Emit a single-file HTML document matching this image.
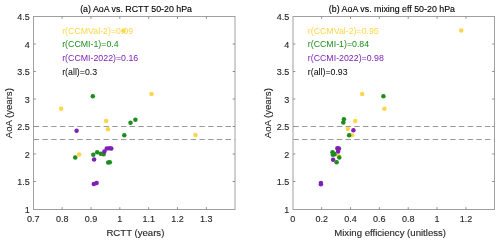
<!DOCTYPE html>
<html><head><meta charset="utf-8"><style>
html,body{margin:0;padding:0;background:#fff;width:500px;height:244px;overflow:hidden}
svg{display:block;will-change:transform;font-family:"Liberation Sans",sans-serif}
</style></head><body>
<svg width="500" height="244" viewBox="0 0 500 244">
<rect width="500" height="244" fill="#fff"/>
<line x1="33.5" y1="126.5" x2="235.0" y2="126.5" stroke="#999999" stroke-width="1" stroke-dasharray="5.4 3.32" stroke-dashoffset="-0.25"/>
<line x1="33.5" y1="139.5" x2="235.0" y2="139.5" stroke="#999999" stroke-width="1" stroke-dasharray="5.4 3.32" stroke-dashoffset="-0.25"/>
<rect x="33.5" y="16.5" width="201.50" height="193.00" fill="none" stroke="#a0a0a0" stroke-width="1"/>
<text x="33.30" y="222.00" font-size="9" text-anchor="middle" fill="#262626" stroke="#262626" stroke-width="0.12">0.7</text>
<line x1="62.14" y1="209.5" x2="62.14" y2="207.2" stroke="#8c8c8c" stroke-width="1"/>
<line x1="62.14" y1="16.5" x2="62.14" y2="18.8" stroke="#8c8c8c" stroke-width="1"/>
<text x="62.14" y="222.00" font-size="9" text-anchor="middle" fill="#262626" stroke="#262626" stroke-width="0.12">0.8</text>
<line x1="90.99" y1="209.5" x2="90.99" y2="207.2" stroke="#8c8c8c" stroke-width="1"/>
<line x1="90.99" y1="16.5" x2="90.99" y2="18.8" stroke="#8c8c8c" stroke-width="1"/>
<text x="90.99" y="222.00" font-size="9" text-anchor="middle" fill="#262626" stroke="#262626" stroke-width="0.12">0.9</text>
<line x1="119.83" y1="209.5" x2="119.83" y2="207.2" stroke="#8c8c8c" stroke-width="1"/>
<line x1="119.83" y1="16.5" x2="119.83" y2="18.8" stroke="#8c8c8c" stroke-width="1"/>
<text x="119.83" y="222.00" font-size="9" text-anchor="middle" fill="#262626" stroke="#262626" stroke-width="0.12">1</text>
<line x1="148.67" y1="209.5" x2="148.67" y2="207.2" stroke="#8c8c8c" stroke-width="1"/>
<line x1="148.67" y1="16.5" x2="148.67" y2="18.8" stroke="#8c8c8c" stroke-width="1"/>
<text x="148.67" y="222.00" font-size="9" text-anchor="middle" fill="#262626" stroke="#262626" stroke-width="0.12">1.1</text>
<line x1="177.51" y1="209.5" x2="177.51" y2="207.2" stroke="#8c8c8c" stroke-width="1"/>
<line x1="177.51" y1="16.5" x2="177.51" y2="18.8" stroke="#8c8c8c" stroke-width="1"/>
<text x="177.51" y="222.00" font-size="9" text-anchor="middle" fill="#262626" stroke="#262626" stroke-width="0.12">1.2</text>
<line x1="206.36" y1="209.5" x2="206.36" y2="207.2" stroke="#8c8c8c" stroke-width="1"/>
<line x1="206.36" y1="16.5" x2="206.36" y2="18.8" stroke="#8c8c8c" stroke-width="1"/>
<text x="206.36" y="222.00" font-size="9" text-anchor="middle" fill="#262626" stroke="#262626" stroke-width="0.12">1.3</text>
<text x="29.80" y="212.55" font-size="9" text-anchor="end" fill="#262626" stroke="#262626" stroke-width="0.12">1</text>
<line x1="33.5" y1="181.50" x2="35.8" y2="181.50" stroke="#8c8c8c" stroke-width="1"/>
<line x1="235.0" y1="181.50" x2="232.7" y2="181.50" stroke="#8c8c8c" stroke-width="1"/>
<text x="29.80" y="185.05" font-size="9" text-anchor="end" fill="#262626" stroke="#262626" stroke-width="0.12">1.5</text>
<line x1="33.5" y1="154.00" x2="35.8" y2="154.00" stroke="#8c8c8c" stroke-width="1"/>
<line x1="235.0" y1="154.00" x2="232.7" y2="154.00" stroke="#8c8c8c" stroke-width="1"/>
<text x="29.80" y="157.55" font-size="9" text-anchor="end" fill="#262626" stroke="#262626" stroke-width="0.12">2</text>
<line x1="33.5" y1="126.50" x2="35.8" y2="126.50" stroke="#8c8c8c" stroke-width="1"/>
<line x1="235.0" y1="126.50" x2="232.7" y2="126.50" stroke="#8c8c8c" stroke-width="1"/>
<text x="29.80" y="130.05" font-size="9" text-anchor="end" fill="#262626" stroke="#262626" stroke-width="0.12">2.5</text>
<line x1="33.5" y1="99.00" x2="35.8" y2="99.00" stroke="#8c8c8c" stroke-width="1"/>
<line x1="235.0" y1="99.00" x2="232.7" y2="99.00" stroke="#8c8c8c" stroke-width="1"/>
<text x="29.80" y="102.55" font-size="9" text-anchor="end" fill="#262626" stroke="#262626" stroke-width="0.12">3</text>
<line x1="33.5" y1="71.50" x2="35.8" y2="71.50" stroke="#8c8c8c" stroke-width="1"/>
<line x1="235.0" y1="71.50" x2="232.7" y2="71.50" stroke="#8c8c8c" stroke-width="1"/>
<text x="29.80" y="75.05" font-size="9" text-anchor="end" fill="#262626" stroke="#262626" stroke-width="0.12">3.5</text>
<line x1="33.5" y1="44.00" x2="35.8" y2="44.00" stroke="#8c8c8c" stroke-width="1"/>
<line x1="235.0" y1="44.00" x2="232.7" y2="44.00" stroke="#8c8c8c" stroke-width="1"/>
<text x="29.80" y="47.55" font-size="9" text-anchor="end" fill="#262626" stroke="#262626" stroke-width="0.12">4</text>
<text x="29.80" y="20.05" font-size="9" text-anchor="end" fill="#262626" stroke="#262626" stroke-width="0.12">4.5</text>
<text x="136.10" y="12" font-size="8.85" text-anchor="middle" fill="#000" stroke="#000" stroke-width="0.12">(a) AoA vs. RCTT 50-20 hPa</text>
<text x="135.40" y="236.1" font-size="9.6" text-anchor="middle" fill="#262626" stroke="#262626" stroke-width="0.12">RCTT (years)</text>
<text transform="translate(11.70,113.2) rotate(-90)" font-size="9.6" text-anchor="middle" fill="#262626" stroke="#262626" stroke-width="0.12">AoA (years)</text>
<text x="62.2" y="33.70" font-size="8.8" fill="#ffd54a">r(CCMVal-2)=0.09</text>
<text x="62.2" y="47.45" font-size="8.8" fill="#1e8c1e">r(CCMI-1)=0.4</text>
<text x="62.2" y="61.20" font-size="8.8" fill="#7e20b4">r(CCMI-2022)=0.16</text>
<text x="62.2" y="74.95" font-size="8.8" fill="#000">r(all)=0.3</text>
<circle cx="123.5" cy="30.7" r="2.25" fill="#ffd54a"/>
<circle cx="151.5" cy="93.9" r="2.25" fill="#ffd54a"/>
<circle cx="61.1" cy="108.7" r="2.25" fill="#ffd54a"/>
<circle cx="106.2" cy="121.1" r="2.25" fill="#ffd54a"/>
<circle cx="108.0" cy="129.3" r="2.25" fill="#ffd54a"/>
<circle cx="195.5" cy="135.1" r="2.25" fill="#ffd54a"/>
<circle cx="79.1" cy="154.4" r="2.25" fill="#ffd54a"/>
<circle cx="92.8" cy="96.2" r="2.25" fill="#1e8c1e"/>
<circle cx="135.4" cy="119.7" r="2.25" fill="#1e8c1e"/>
<circle cx="130.5" cy="122.8" r="2.25" fill="#1e8c1e"/>
<circle cx="124.3" cy="135.2" r="2.25" fill="#1e8c1e"/>
<circle cx="93.3" cy="154.7" r="2.25" fill="#1e8c1e"/>
<circle cx="97.2" cy="152.2" r="2.25" fill="#1e8c1e"/>
<circle cx="100.7" cy="153.8" r="2.25" fill="#1e8c1e"/>
<circle cx="103.6" cy="154.2" r="2.25" fill="#1e8c1e"/>
<circle cx="75.2" cy="157.6" r="2.25" fill="#1e8c1e"/>
<circle cx="108.2" cy="162.4" r="2.25" fill="#1e8c1e"/>
<circle cx="109.8" cy="162.3" r="2.25" fill="#1e8c1e"/>
<circle cx="76.6" cy="130.7" r="2.25" fill="#7e20b4"/>
<circle cx="104.4" cy="151.4" r="2.25" fill="#7e20b4"/>
<circle cx="106.8" cy="148.5" r="2.25" fill="#7e20b4"/>
<circle cx="109.3" cy="148.3" r="2.25" fill="#7e20b4"/>
<circle cx="111.3" cy="148.4" r="2.25" fill="#7e20b4"/>
<circle cx="94.1" cy="159.6" r="2.25" fill="#7e20b4"/>
<circle cx="93.8" cy="184.1" r="2.25" fill="#7e20b4"/>
<circle cx="96.6" cy="182.9" r="2.25" fill="#7e20b4"/>
<line x1="293.0" y1="126.5" x2="494.5" y2="126.5" stroke="#999999" stroke-width="1" stroke-dasharray="5.4 3.32" stroke-dashoffset="-0.25"/>
<line x1="293.0" y1="139.5" x2="494.5" y2="139.5" stroke="#999999" stroke-width="1" stroke-dasharray="5.4 3.32" stroke-dashoffset="-0.25"/>
<rect x="293.0" y="16.5" width="201.50" height="193.00" fill="none" stroke="#a0a0a0" stroke-width="1"/>
<text x="292.80" y="222.00" font-size="9" text-anchor="middle" fill="#262626" stroke="#262626" stroke-width="0.12">0</text>
<line x1="321.66" y1="209.5" x2="321.66" y2="207.2" stroke="#8c8c8c" stroke-width="1"/>
<line x1="321.66" y1="16.5" x2="321.66" y2="18.8" stroke="#8c8c8c" stroke-width="1"/>
<text x="321.66" y="222.00" font-size="9" text-anchor="middle" fill="#262626" stroke="#262626" stroke-width="0.12">0.2</text>
<line x1="350.51" y1="209.5" x2="350.51" y2="207.2" stroke="#8c8c8c" stroke-width="1"/>
<line x1="350.51" y1="16.5" x2="350.51" y2="18.8" stroke="#8c8c8c" stroke-width="1"/>
<text x="350.51" y="222.00" font-size="9" text-anchor="middle" fill="#262626" stroke="#262626" stroke-width="0.12">0.4</text>
<line x1="379.37" y1="209.5" x2="379.37" y2="207.2" stroke="#8c8c8c" stroke-width="1"/>
<line x1="379.37" y1="16.5" x2="379.37" y2="18.8" stroke="#8c8c8c" stroke-width="1"/>
<text x="379.37" y="222.00" font-size="9" text-anchor="middle" fill="#262626" stroke="#262626" stroke-width="0.12">0.6</text>
<line x1="408.23" y1="209.5" x2="408.23" y2="207.2" stroke="#8c8c8c" stroke-width="1"/>
<line x1="408.23" y1="16.5" x2="408.23" y2="18.8" stroke="#8c8c8c" stroke-width="1"/>
<text x="408.23" y="222.00" font-size="9" text-anchor="middle" fill="#262626" stroke="#262626" stroke-width="0.12">0.8</text>
<line x1="437.09" y1="209.5" x2="437.09" y2="207.2" stroke="#8c8c8c" stroke-width="1"/>
<line x1="437.09" y1="16.5" x2="437.09" y2="18.8" stroke="#8c8c8c" stroke-width="1"/>
<text x="437.09" y="222.00" font-size="9" text-anchor="middle" fill="#262626" stroke="#262626" stroke-width="0.12">1</text>
<line x1="465.94" y1="209.5" x2="465.94" y2="207.2" stroke="#8c8c8c" stroke-width="1"/>
<line x1="465.94" y1="16.5" x2="465.94" y2="18.8" stroke="#8c8c8c" stroke-width="1"/>
<text x="465.94" y="222.00" font-size="9" text-anchor="middle" fill="#262626" stroke="#262626" stroke-width="0.12">1.2</text>
<text x="289.30" y="212.55" font-size="9" text-anchor="end" fill="#262626" stroke="#262626" stroke-width="0.12">1</text>
<line x1="293.0" y1="181.50" x2="295.3" y2="181.50" stroke="#8c8c8c" stroke-width="1"/>
<line x1="494.5" y1="181.50" x2="492.2" y2="181.50" stroke="#8c8c8c" stroke-width="1"/>
<text x="289.30" y="185.05" font-size="9" text-anchor="end" fill="#262626" stroke="#262626" stroke-width="0.12">1.5</text>
<line x1="293.0" y1="154.00" x2="295.3" y2="154.00" stroke="#8c8c8c" stroke-width="1"/>
<line x1="494.5" y1="154.00" x2="492.2" y2="154.00" stroke="#8c8c8c" stroke-width="1"/>
<text x="289.30" y="157.55" font-size="9" text-anchor="end" fill="#262626" stroke="#262626" stroke-width="0.12">2</text>
<line x1="293.0" y1="126.50" x2="295.3" y2="126.50" stroke="#8c8c8c" stroke-width="1"/>
<line x1="494.5" y1="126.50" x2="492.2" y2="126.50" stroke="#8c8c8c" stroke-width="1"/>
<text x="289.30" y="130.05" font-size="9" text-anchor="end" fill="#262626" stroke="#262626" stroke-width="0.12">2.5</text>
<line x1="293.0" y1="99.00" x2="295.3" y2="99.00" stroke="#8c8c8c" stroke-width="1"/>
<line x1="494.5" y1="99.00" x2="492.2" y2="99.00" stroke="#8c8c8c" stroke-width="1"/>
<text x="289.30" y="102.55" font-size="9" text-anchor="end" fill="#262626" stroke="#262626" stroke-width="0.12">3</text>
<line x1="293.0" y1="71.50" x2="295.3" y2="71.50" stroke="#8c8c8c" stroke-width="1"/>
<line x1="494.5" y1="71.50" x2="492.2" y2="71.50" stroke="#8c8c8c" stroke-width="1"/>
<text x="289.30" y="75.05" font-size="9" text-anchor="end" fill="#262626" stroke="#262626" stroke-width="0.12">3.5</text>
<line x1="293.0" y1="44.00" x2="295.3" y2="44.00" stroke="#8c8c8c" stroke-width="1"/>
<line x1="494.5" y1="44.00" x2="492.2" y2="44.00" stroke="#8c8c8c" stroke-width="1"/>
<text x="289.30" y="47.55" font-size="9" text-anchor="end" fill="#262626" stroke="#262626" stroke-width="0.12">4</text>
<text x="289.30" y="20.05" font-size="9" text-anchor="end" fill="#262626" stroke="#262626" stroke-width="0.12">4.5</text>
<text x="391.95" y="12" font-size="8.85" text-anchor="middle" fill="#000" stroke="#000" stroke-width="0.12">(b) AoA vs. mixing eff 50-20 hPa</text>
<text x="390.15" y="236.1" font-size="9.6" text-anchor="middle" fill="#262626" stroke="#262626" stroke-width="0.12">Mixing efficiency (unitless)</text>
<text transform="translate(271.20,113.2) rotate(-90)" font-size="9.6" text-anchor="middle" fill="#262626" stroke="#262626" stroke-width="0.12">AoA (years)</text>
<text x="307.8" y="33.70" font-size="8.8" fill="#ffd54a">r(CCMVal-2)=0.95</text>
<text x="307.8" y="47.45" font-size="8.8" fill="#1e8c1e">r(CCMI-1)=0.84</text>
<text x="307.8" y="61.20" font-size="8.8" fill="#7e20b4">r(CCMI-2022)=0.98</text>
<text x="307.8" y="74.95" font-size="8.8" fill="#000">r(all)=0.93</text>
<circle cx="461.25" cy="30.5" r="2.25" fill="#ffd54a"/>
<circle cx="362.2" cy="93.9" r="2.25" fill="#ffd54a"/>
<circle cx="384.4" cy="108.7" r="2.25" fill="#ffd54a"/>
<circle cx="355.2" cy="121.1" r="2.25" fill="#ffd54a"/>
<circle cx="347.8" cy="129.1" r="2.25" fill="#ffd54a"/>
<circle cx="351.9" cy="135.2" r="2.25" fill="#ffd54a"/>
<circle cx="338.4" cy="155.7" r="2.25" fill="#ffd54a"/>
<circle cx="383.4" cy="96.2" r="2.25" fill="#1e8c1e"/>
<circle cx="343.9" cy="119.2" r="2.25" fill="#1e8c1e"/>
<circle cx="343.3" cy="122.6" r="2.25" fill="#1e8c1e"/>
<circle cx="349.1" cy="135.2" r="2.25" fill="#1e8c1e"/>
<circle cx="332.5" cy="152.2" r="2.25" fill="#1e8c1e"/>
<circle cx="332.8" cy="154.7" r="2.25" fill="#1e8c1e"/>
<circle cx="334.0" cy="153.8" r="2.25" fill="#1e8c1e"/>
<circle cx="334.5" cy="154.2" r="2.25" fill="#1e8c1e"/>
<circle cx="339.3" cy="157.6" r="2.25" fill="#1e8c1e"/>
<circle cx="336.6" cy="162.2" r="2.25" fill="#1e8c1e"/>
<circle cx="353.4" cy="130.3" r="2.25" fill="#7e20b4"/>
<circle cx="337.4" cy="148.3" r="2.25" fill="#7e20b4"/>
<circle cx="338.9" cy="148.4" r="2.25" fill="#7e20b4"/>
<circle cx="338.3" cy="149.0" r="2.25" fill="#7e20b4"/>
<circle cx="338.1" cy="151.5" r="2.25" fill="#7e20b4"/>
<circle cx="333.1" cy="159.7" r="2.25" fill="#7e20b4"/>
<circle cx="320.9" cy="182.9" r="2.25" fill="#7e20b4"/>
<circle cx="320.9" cy="184.3" r="2.25" fill="#7e20b4"/>
</svg>
</body></html>
